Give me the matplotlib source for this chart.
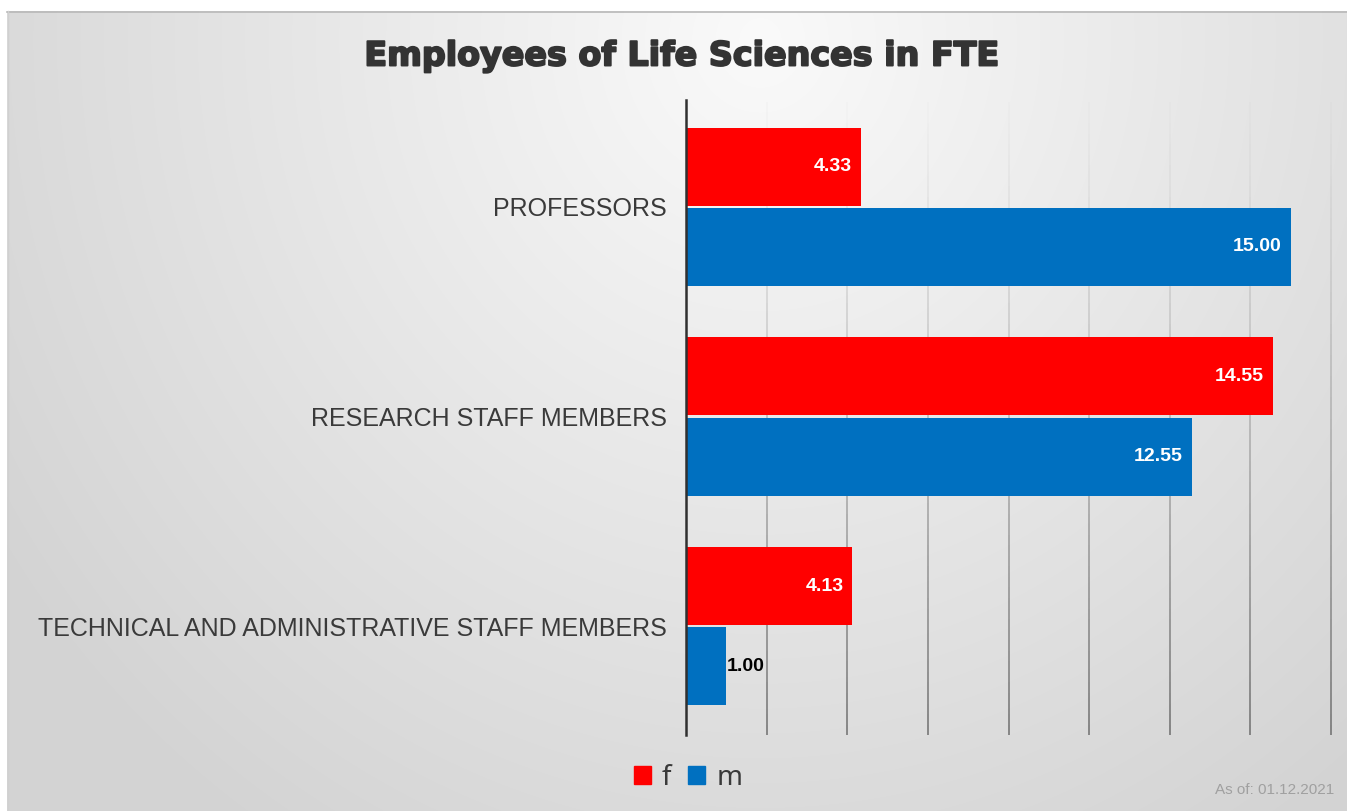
import numpy as np
import matplotlib
matplotlib.use("Agg")
import matplotlib.pyplot as plt
import matplotlib.patheffects as pe
from matplotlib.collections import LineCollection
from matplotlib.patches import Rectangle

# Staff groups and FTE values
categories = ["PROFESSORS", "RESEARCH STAFF MEMBERS",
              "TECHNICAL AND ADMINISTRATIVE STAFF MEMBERS"]
female = [4.33, 14.55, 4.13]
male = [15.00, 12.55, 1.00]
series_names = ["f", "m"]

RED = "#FF0000"
BLUE = "#0070C0"
TXT = "#3a3a3a"

W, H = 1347, 811
fig = plt.figure(figsize=(W / 100, H / 100), dpi=100)

# background: soft radial gradient, light at the top centre
bg = fig.add_axes([0, 0, 1, 1], zorder=-10)
yy, xx = np.mgrid[0:H, 0:W]
r = np.sqrt(((xx - 760) / 900.0) ** 2 + ((yy - 40) / 950.0) ** 2)
shade = np.clip(0.98 - 0.15 * r, 0.83, 0.98)
img = np.dstack([shade, shade, shade])
bg.imshow(img, extent=(0, W, H, 0), aspect="auto", interpolation="bilinear")
bg.add_patch(Rectangle((0, 0), W, 11, color="white", lw=0))
bg.add_patch(Rectangle((0, 0), 7, H, color="white", lw=0))
bg.plot([7, W], [11.5, 11.5], color="#b8b8b8", lw=1.2)
bg.plot([7.5, 7.5], [11, H], color="#d0d0d0", lw=1.0)
bg.set_xlim(0, W)
bg.set_ylim(H, 0)
bg.axis("off")

ax = fig.add_axes([686 / W, 1 - 731 / H, 645 / W, 629 / H])
ax.patch.set_alpha(0)

y = np.arange(len(categories))
h = 0.372
off = 0.191
ax.barh(y - off, female, height=h, color=RED, zorder=3)
ax.barh(y + off, male, height=h, color=BLUE, zorder=3)

ax.set_xlim(0, 16)
ax.set_ylim(2.5, -0.5)

# vertical grid lines that fade out towards the top
segs, cols = [], []
n = 60
ys = np.linspace(-0.5, 2.52, n + 1)
for xv in range(2, 17, 2):
    for i in range(n):
        segs.append([(xv, ys[i]), (xv, ys[i + 1])])
        a = 0.02 + 0.72 * (i / n) ** 1.3
        cols.append((0.36, 0.36, 0.36, a))
ax.add_collection(LineCollection(segs, colors=cols, linewidths=1.3,
                                 zorder=1, clip_on=False))

ax.plot([0, 0], [-0.51, 2.52], color="#303030", lw=1.8, zorder=4,
        clip_on=False)

for s in ax.spines.values():
    s.set_visible(False)
ax.set_xticks([])
ax.set_yticks(y)
ax.set_yticklabels(categories, fontsize=18, color=TXT, family="Liberation Sans")
ax.tick_params(axis="y", length=0, pad=14)

# value labels
for vals, dy in ((female, -off), (male, off)):
    for yi, v in zip(y, vals):
        if v > 2:
            ax.text(v - 0.22, yi + dy, f"{v:.2f}", ha="right", va="center",
                    color="white", fontsize=14, fontweight="bold",
                    family="Liberation Sans", zorder=5)
        else:
            ax.text(v + 0.02, yi + dy, f"{v:.2f}", ha="left", va="center",
                    color="black", fontsize=14, fontweight="bold",
                    family="Liberation Sans", zorder=5)

fig.text(682 / W, 1 - 56 / H, "Employees of Life Sciences in FTE",
         ha="center", va="center", fontsize=24, fontweight="bold",
         color="#333333", family="DejaVu Sans",
         path_effects=[pe.withStroke(linewidth=1.4, foreground="#333333")])

handles = [Rectangle((0, 0), 1, 1, color=RED), Rectangle((0, 0), 1, 1, color=BLUE)]
leg = fig.legend(handles, series_names, loc="center", ncol=2,
                 bbox_to_anchor=(688 / W, 1 - 778 / H), frameon=False,
                 prop={"family": "Noto Sans", "size": 20},
                 handlelength=0.62, handleheight=0.62, handletextpad=0.4,
                 columnspacing=0.6)
for t in leg.get_texts():
    t.set_color(TXT)

fig.text(1334 / W, 1 - 790 / H, "As of: 01.12.2021", ha="right", va="center",
         fontsize=11, color="#a0a0a0", family="Liberation Sans")

fig.savefig("out.png", dpi=100)
